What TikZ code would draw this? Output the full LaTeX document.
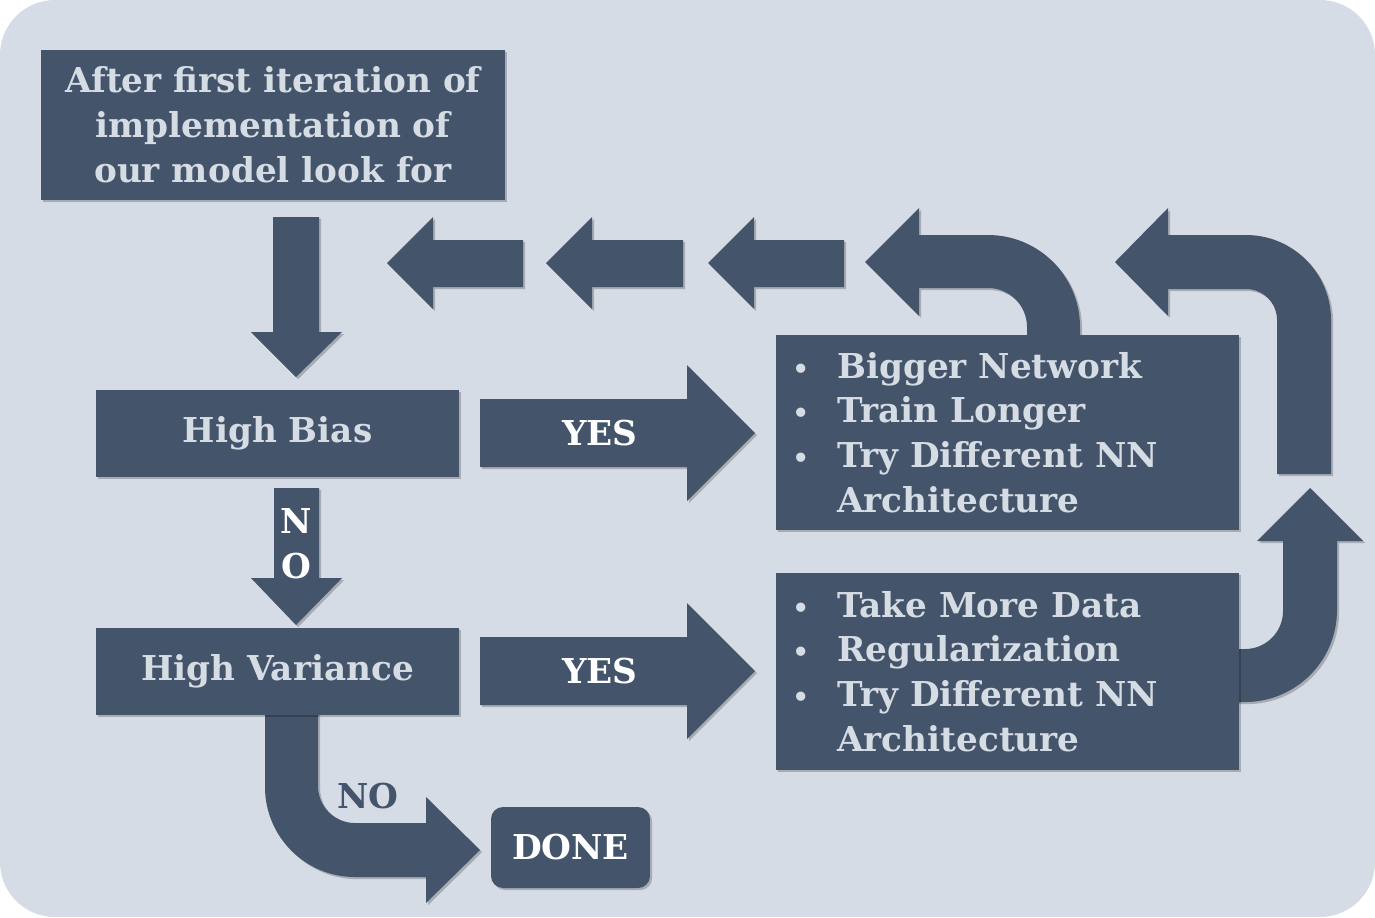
\documentclass[tikz,border=0pt]{standalone}
\usepackage{fontspec}
\setmainfont{DejaVu Serif}
\usetikzlibrary{shadows}
\definecolor{slate}{HTML}{44546A}
\definecolor{paper}{HTML}{D6DCE5}
\definecolor{pale}{HTML}{D6DCE4}
\newcommand{\bul}{\makebox[25.5pt][l]{\fontsize{15}{15}\selectfont\textbullet}}
\begin{document}
\begin{tikzpicture}[x=0.02cm,y=-0.02cm,
  shade box/.style={drop shadow={shadow xshift=1.2pt,shadow yshift=-1.2pt,opacity=0.22,fill=black}},
  main node/.style={fill=slate,text=pale,font=\fontsize{19.5}{25.5}\selectfont\bfseries,align=center,inner sep=0pt,shade box},
  list node/.style={text=pale,font=\fontsize{19.5}{25.5}\selectfont\bfseries,align=left,inner sep=0pt,anchor=west},
  block/.style={fill=slate,shade box},
  tag/.style={text=white,font=\fontsize{19.5}{25.5}\selectfont\bfseries,inner sep=0pt}]
  \useasboundingbox (0,0) rectangle (1375,917);
  \fill[paper,rounded corners=1.1cm] (0,0) rectangle (1375,917);

  % straight block arrows
  \fill[block] (273,217) -- (319,217) -- (319,332) -- (342,332) -- (296,377) -- (251,332) -- (273,332) -- cycle;
  \fill[block] (274,488) -- (319,488) -- (319,578) -- (342,578) -- (296,625) -- (251,578) -- (274,578) -- cycle;
  \foreach \tip/\base/\tail in {387/433/523, 546/592/683, 708/754/844}
    \fill[block] (\tip,263) -- (\base,217) -- (\base,240) -- (\tail,240) -- (\tail,287) -- (\base,287) -- (\base,309) -- cycle;
  \foreach \y in {433,671}
    \fill[block] (480,\y-34) -- (687,\y-34) -- (687,\y-68) -- (755,\y) -- (687,\y+68) -- (687,\y+34) -- (480,\y+34) -- cycle;

  % bent block arrows
  \fill[block] (865,262) -- (919,208) -- (919,235) -- (988,235) arc[start angle=-90,end angle=0,radius=92]
    -- (1080,340) -- (1027,340) -- (1027,327) arc[start angle=0,end angle=-90,radius=39]
    -- (919,288) -- (919,316) -- cycle;
  \fill[block] (1115,262) -- (1168,208) -- (1168,235) -- (1246,235) arc[start angle=-90,end angle=0,radius=85]
    -- (1331,474) -- (1277,474) -- (1277,320) arc[start angle=0,end angle=-90,radius=31]
    -- (1168,289) -- (1168,316) -- cycle;
  \fill[block] (1230,649) -- (1245,649) arc[start angle=90,end angle=0,radius=38]
    -- (1283,541) -- (1257,541) -- (1310,488) -- (1363,541) -- (1337,541)
    -- (1337,610) arc[start angle=0,end angle=90,radius=92] -- (1230,702) -- cycle;
  \fill[block] (265,710) -- (265,787) arc[start angle=180,end angle=90,radius=90]
    -- (426,877) -- (426,903) -- (480,850) -- (426,797) -- (426,823)
    -- (355,823) arc[start angle=90,end angle=180,radius=37] -- (318,710) -- cycle;

  % boxes
  \node[main node,minimum width=9.28cm,minimum height=3cm] (first) at (273,125)
    {After first iteration of\\implementation of\\our model look for};
  \node[main node,minimum width=7.26cm,minimum height=1.74cm] (bias) at (277.5,433.5) {High Bias};
  \node[main node,minimum width=7.26cm,minimum height=1.74cm] (var) at (277.5,671.5) {High Variance};
  \node[main node,minimum width=9.26cm,minimum height=3.9cm] (fixbias) at (1007.5,432.5) {};
  \node[main node,minimum width=9.26cm,minimum height=3.94cm] (fixvar) at (1007.5,671.5) {};
  \node[main node,text=white,rounded corners=0.24cm,minimum width=3.18cm,minimum height=1.62cm] (done) at (570.5,847.5) {DONE};

  \node[list node] (biaslist) at (792,432.5)
    {\bul Bigger Network\\\bul Train Longer\\\bul Try Different NN\\\hspace{25.5pt}Architecture};
  \node[list node] (varlist) at (792,671.5)
    {\bul Take More Data\\\bul Regularization\\\bul Try Different NN\\\hspace{25.5pt}Architecture};

  % labels on the arrows
  \node[tag] (yes1) at (600,433) {YES};
  \node[tag] (yes2) at (600,671) {YES};
  \node[tag,align=center] (no1) at (296,544) {N\\O};
  \node[tag,text=slate] (no2) at (368,796) {NO};
\end{tikzpicture}
\end{document}
